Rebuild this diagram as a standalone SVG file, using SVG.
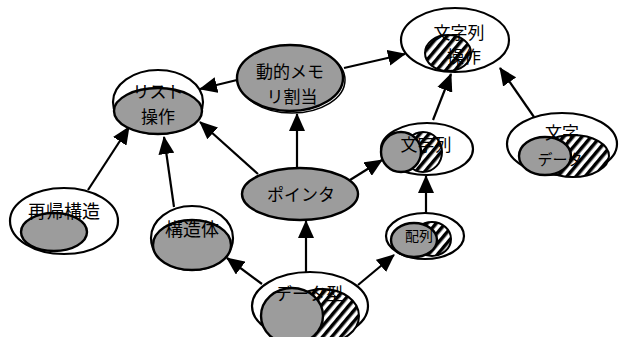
<svg xmlns="http://www.w3.org/2000/svg" width="624" height="337" viewBox="0 0 624 337">
<style>
.o{fill:#fff;stroke:#000;stroke-width:2.2}
.g{fill:#9c9c9c;stroke:#000;stroke-width:2.4}
.h{fill:url(#hatch);stroke:#000;stroke-width:2}
.t{font-family:"Noto Sans CJK JP","Noto Sans CJK SC",sans-serif;font-size:17px;fill:#000;text-anchor:middle;dominant-baseline:central}
.c{stroke:#000;stroke-width:2.2;fill:none;marker-end:url(#ah)}
</style>
<defs>
<pattern id="hatch" width="7" height="7" patternUnits="userSpaceOnUse" patternTransform="rotate(40)">
<rect width="7" height="7" fill="#fff"/>
<rect width="3.5" height="7" fill="#000"/>
</pattern>
<marker id="ah" markerUnits="userSpaceOnUse" markerWidth="18" markerHeight="16" viewBox="0 0 18 16" refX="17" refY="8" orient="auto">
<path d="M0,0 L18,8 L0,16 Z" fill="#000"/>
</marker>
</defs>
<rect width="624" height="337" fill="#fff"/>
<g id="connectors">
<line class="c" x1="237" y1="80" x2="200" y2="89"/>
<line class="c" x1="344" y1="68" x2="405" y2="54"/>
<line class="c" x1="297" y1="168" x2="297" y2="114"/>
<line class="c" x1="258" y1="174" x2="200" y2="122"/>
<line class="c" x1="350" y1="180" x2="382" y2="160"/>
<line class="c" x1="88" y1="190" x2="129" y2="127"/>
<line class="c" x1="174" y1="207" x2="164" y2="137"/>
<line class="c" x1="262" y1="284" x2="227" y2="258"/>
<line class="c" x1="306" y1="272" x2="306" y2="221"/>
<line class="c" x1="358" y1="285" x2="394" y2="255"/>
<line class="c" x1="426" y1="213" x2="426" y2="176"/>
<line class="c" x1="433" y1="120" x2="451" y2="74"/>
<line class="c" x1="534" y1="117" x2="500" y2="68"/>
</g>
<g id="list-ops">
<ellipse class="o" cx="158" cy="102" rx="45" ry="32"/>
<ellipse class="g" cx="158" cy="111" rx="44" ry="23"/>
<text class="t" x="158" y="90">リスト</text>
<text class="t" x="158" y="115">操作</text>
</g>
<g id="dynamic-memory">
<ellipse cx="292" cy="80" rx="53" ry="33" fill="none" stroke="#000" stroke-width="1.5"/>
<ellipse class="g" cx="290" cy="78" rx="53" ry="33"/>
<text class="t" x="290" y="70">動的メモ</text>
<text class="t" x="292" y="95">リ割当</text>
</g>
<g id="string-ops">
<ellipse class="o" cx="455" cy="40" rx="54" ry="32"/>
<ellipse class="h" cx="448" cy="53" rx="23" ry="18"/>
<text class="t" x="459" y="31">文字列</text>
<text class="t" x="464" y="55">操作</text>
</g>
<g id="pointer">
<ellipse class="g" cx="300" cy="194" rx="58" ry="26"/>
<text class="t" x="301" y="193">ポインタ</text>
</g>
<g id="string">
<ellipse class="o" cx="427" cy="149" rx="46" ry="26"/>
<ellipse class="h" cx="423" cy="152" rx="19" ry="20"/>
<ellipse class="g" cx="401" cy="152" rx="20" ry="20"/>
<text class="t" x="426" y="143">文字列</text>
</g>
<g id="char-data">
<ellipse class="o" cx="562" cy="144" rx="55" ry="31"/>
<ellipse class="h" cx="573" cy="156" rx="36" ry="21"/>
<ellipse class="g" cx="545" cy="156" rx="26" ry="19"/>
<text class="t" x="562" y="131">文字</text>
<text class="t" x="560" y="158" style="font-size:15px">データ</text>
</g>
<g id="recursive">
<ellipse class="o" cx="64" cy="221" rx="54" ry="33"/>
<ellipse class="g" cx="54" cy="232" rx="33" ry="19"/>
<text class="t" x="64" y="210" style="font-size:18px">再帰構造</text>
</g>
<g id="struct">
<ellipse class="o" cx="192" cy="238" rx="41" ry="32"/>
<ellipse class="g" cx="192" cy="245" rx="39" ry="25"/>
<text class="t" x="192" y="228" style="font-size:18px">構造体</text>
</g>
<g id="array">
<ellipse class="o" cx="425" cy="236" rx="39" ry="23"/>
<ellipse class="h" cx="432" cy="239" rx="19" ry="17"/>
<ellipse class="g" cx="414" cy="240" rx="23" ry="17"/>
<text class="t" x="419" y="235" style="font-size:14px">配列</text>
</g>
<g id="data-type">
<ellipse class="o" cx="310" cy="306" rx="58" ry="34"/>
<ellipse class="h" cx="323" cy="316" rx="36" ry="27"/>
<ellipse class="g" cx="292" cy="316" rx="31" ry="28"/>
<text class="t" x="309" y="292">データ型</text>
</g>
</svg>
